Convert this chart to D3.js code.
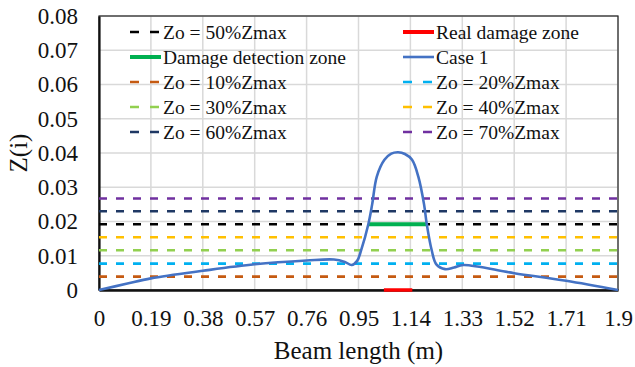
<!DOCTYPE html>
<html><head><meta charset="utf-8">
<script src="https://cdn.jsdelivr.net/npm/d3@7"></script>
<style>body{margin:0;background:#fff}svg{display:block}text{font-family:"Liberation Serif","Times New Roman",Times,"DejaVu Serif","Noto Serif",serif;fill:#111}</style>
</head><body><svg id="c" width="635" height="367"></svg>
<script>
const xTicks = [0,0.19,0.38,0.57,0.76,0.95,1.14,1.33,1.52,1.71,1.9];
const xTickLabels = ["0","0.19","0.38","0.57","0.76","0.95","1.14","1.33","1.52","1.71","1.9"];
const yTicks = [0,0.01,0.02,0.03,0.04,0.05,0.06,0.07,0.08];
const yTickLabels = ["0","0.01","0.02","0.03","0.04","0.05","0.06","0.07","0.08"];
const case1X = [0,0.1,0.19,0.38,0.57,0.76,0.86,0.9,0.925,0.945,0.96,0.986,1.0,1.017,1.045,1.07,1.095,1.12,1.146,1.169,1.19,1.2,1.218,1.235,1.267,1.3,1.334,1.52,1.71,1.9];
const case1Y = [0,0.0018,0.0034,0.0056,0.0075,0.0086,0.0089,0.0082,0.0073,0.0085,0.0117,0.0192,0.025,0.0331,0.038,0.0398,0.0402,0.0397,0.038,0.0331,0.025,0.0192,0.0116,0.0075,0.0061,0.0066,0.0073,0.0049,0.0027,0];
const thrNames = ["Zo = 10%Zmax","Zo = 20%Zmax","Zo = 30%Zmax","Zo = 40%Zmax","Zo = 50%Zmax","Zo = 60%Zmax","Zo = 70%Zmax"];
const thrValues = [0.0039,0.0077,0.0116,0.0154,0.0192,0.0230,0.0267];
const thrColors = ["#C55A11","#00B0F0","#92D050","#FFC000","#000000","#1F3864","#7030A0"];
const detectZone = [0.986,1.2]; const detectLevel = 0.0192;
const realZone = [1.043,1.147];
const legendItems = [
 {name:"Zo = 50%Zmax", type:"dash", color:"#000000"},
 {name:"Real damage zone", type:"thick", color:"#FF0000"},
 {name:"Damage detection zone", type:"thick", color:"#00B050"},
 {name:"Case 1", type:"line", color:"#4472C4"},
 {name:"Zo = 10%Zmax", type:"dash", color:"#C55A11"},
 {name:"Zo = 20%Zmax", type:"dash", color:"#00B0F0"},
 {name:"Zo = 30%Zmax", type:"dash", color:"#92D050"},
 {name:"Zo = 40%Zmax", type:"dash", color:"#FFC000"},
 {name:"Zo = 60%Zmax", type:"dash", color:"#1F3864"},
 {name:"Zo = 70%Zmax", type:"dash", color:"#7030A0"}
];
const FONT = '"Liberation Serif","Times New Roman",Times,"DejaVu Serif","Noto Serif",serif';
const svg = d3.select("#c");
const L=99,R=618,T=16,B=290;
const x = d3.scaleLinear().domain([0,1.9]).range([L,R]);
const y = d3.scaleLinear().domain([0,0.08]).range([B,T]);
// grid
svg.append("g").selectAll("line").data(yTicks.slice(1)).join("line")
 .attr("x1",L).attr("x2",R).attr("y1",d=>y(d)).attr("y2",d=>y(d)).attr("stroke","#d9d9d9").attr("stroke-width",1.5);
svg.append("g").selectAll("line").data(xTicks.slice(1)).join("line")
 .attr("y1",T).attr("y2",B).attr("x1",d=>x(d)).attr("x2",d=>x(d)).attr("stroke","#d9d9d9").attr("stroke-width",1.5);
// border
svg.append("rect").attr("x",L).attr("y",T).attr("width",R-L).attr("height",B-T).attr("fill","none").attr("stroke","#222").attr("stroke-width",1.2);
// axes
const xa = svg.append("g").attr("transform",`translate(0,${B})`).call(d3.axisBottom(x).tickValues(xTicks).tickFormat((d,i)=>xTickLabels[i]).tickSize(0).tickPadding(20));
xa.attr("font-family",null);
xa.select(".domain").attr("stroke","#111").attr("stroke-width",2.5);
xa.selectAll("text").style("font-size","23px").style("font-family",FONT);
const ya = svg.append("g").attr("transform",`translate(${L},0)`).call(d3.axisLeft(y).tickValues(yTicks).tickFormat((d,i)=>yTickLabels[i]).tickSize(0).tickPadding(21));
ya.attr("font-family",null);
ya.select(".domain").attr("stroke","#111").attr("stroke-width",2.2);
ya.selectAll("text").style("font-size","23px").style("font-family",FONT);
// thresholds
svg.append("g").selectAll("line").data(thrValues).join("line")
 .attr("x1",L).attr("x2",R).attr("y1",d=>y(d)).attr("y2",d=>y(d))
 .attr("stroke",(d,i)=>thrColors[i]).attr("stroke-width",2.6).attr("stroke-dasharray","8,9");
// detection zone
svg.append("line").attr("x1",x(detectZone[0])).attr("x2",x(detectZone[1])).attr("y1",y(detectLevel)).attr("y2",y(detectLevel)).attr("stroke","#00B050").attr("stroke-width",4);
// case 1
const pts = case1X.map((v,i)=>[v,case1Y[i]]);
svg.append("path").datum(pts).attr("fill","none").attr("stroke","#4472C4").attr("stroke-width",2.6)
 .attr("d",d3.line().x(d=>x(d[0])).y(d=>y(d[1])).curve(d3.curveCatmullRom.alpha(0.5)));
// real damage
svg.append("line").attr("x1",x(realZone[0])).attr("x2",x(realZone[1])).attr("y1",y(0)).attr("y2",y(0)).attr("stroke","#FF0000").attr("stroke-width",3.5);
// legend
const colX=[130,403], rowY=[32,57,82,107,132];
const lg = svg.append("g").selectAll("g").data(legendItems).join("g")
 .attr("transform",(d,i)=>`translate(${colX[i%2]},${rowY[Math.floor(i/2)]})`);
lg.append("line").attr("x1",0).attr("x2",d=>d.type==="dash"?29:31).attr("y1",0).attr("y2",0)
 .attr("stroke",d=>d.color).attr("stroke-width",d=>d.type==="thick"?4:2.6)
 .attr("stroke-dasharray",d=>d.type==="dash"?"9,11":null);
lg.append("text").attr("x",33).attr("y",7).style("font-size","19.5px").style("font-family",FONT).text(d=>d.name);
// axis titles
svg.append("text").attr("x",(L+R)/2).attr("y",359).attr("text-anchor","middle").style("font-size","25px").style("font-family",FONT).text("Beam length (m)");
svg.append("text").attr("transform",`translate(27,${(T+B)/2}) rotate(-90)`).attr("text-anchor","middle").style("font-size","25px").style("font-family",FONT).text("Z(i)");
</script></body></html>
